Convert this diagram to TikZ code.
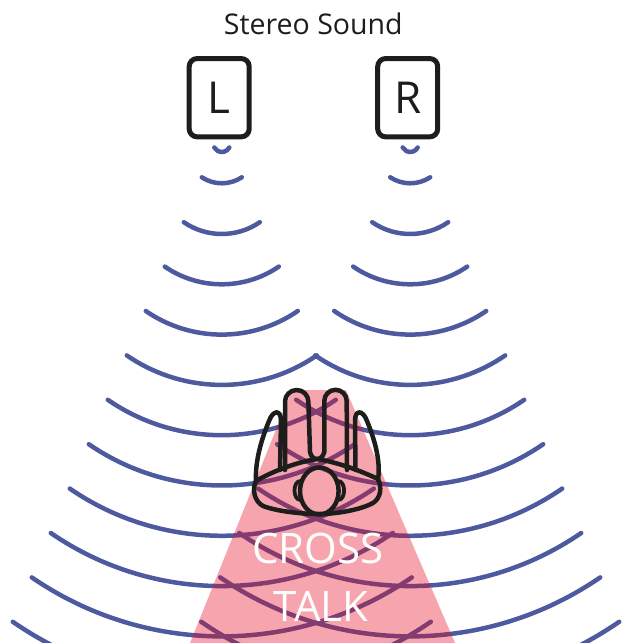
\documentclass[tikz,border=0pt]{standalone}
\usepackage{fontspec}
\setmainfont{Open Sans}
\definecolor{waveblue}{HTML}{4E5A9F}
\definecolor{inkblack}{HTML}{1D1D1B}
\definecolor{washred}{HTML}{E6051F}
\begin{document}
\begin{tikzpicture}[x=1pt,y=-1pt,
  wave/.style={draw=waveblue,line width=4.5pt,line cap=round},
  outline/.style={draw=inkblack,line width=4.5pt,line cap=round,line join=round},
  spk/.style={draw=inkblack,line width=5pt,rounded corners=8pt,minimum width=60pt,
    minimum height=78.3pt,inner sep=0pt,font=\fontsize{44}{50}\selectfont,text=inkblack},
  caption/.style={anchor=base,inner sep=0pt,text=white,font=\fontsize{42}{48}\selectfont}]
\useasboundingbox (0,0) rectangle (626,643);
\clip (0,0) rectangle (626,643);

% title and the two loudspeakers
\node[anchor=base,inner sep=0pt,text=inkblack,font=\fontsize{28.5}{34}\selectfont] (title) at (313.3,34.3) {Stereo Sound};
\node[spk] (left) at (219.2,97.7) {L};
\node[spk] (right) at (407.7,97.7) {R};

% sound waves spreading from each speaker
\foreach \cx in {221.8,410.2}{
  \draw[wave] (\cx,152-8.5) ++(28:8.5) arc[start angle=28,end angle=152,radius=8.5];
  \draw[wave] (\cx,183.3-36.3) ++(56.6:36.3) arc[start angle=56.6,end angle=123.4,radius=36.3];
  \foreach \k in {0,...,9}{
    \pgfmathsetmacro\hw{38+19*\k}
    \pgfmathsetmacro\yb{234+50.3*\k}
    \pgfmathsetmacro\rr{\hw/sin(34.5)}
    \draw[wave] (\cx,\yb-\rr) ++(55.5:\rr) arc[start angle=55.5,end angle=124.5,radius=\rr];
  }
}

% cross-talk zone
\fill[washred,fill opacity=0.36] (292,390) -- (346,390) -- (457.2,648) -- (188,648) -- cycle;

% listener seen from above
\draw[outline] (280,470) -- (281,421) .. controls (281,409) and (273,410) .. (269,421)
  .. controls (262,438) and (255,460) .. (256,481);
\draw[outline] (285,470) -- (285,401.7) arc[start angle=180,end angle=360,radius=11.7]
  -- (310,452) .. controls (311,457) and (314,459) .. (317,459);
\draw[outline] (317,459) .. controls (320,459) and (323,457) .. (324.3,452)
  -- (324.3,401) arc[start angle=180,end angle=360,radius=11.2] -- (347,470);
\draw[outline] (355.5,470) -- (355,421) .. controls (355,409) and (363,410) .. (367,421)
  .. controls (374,438) and (381,460) .. (378,480);
\draw[outline] (256,481) .. controls (275,470) and (298,462) .. (317,459)
  .. controls (336,462) and (359,470) .. (378,479)
  .. controls (382,487) and (381,498) .. (373,503)
  .. controls (360,510) and (336,514) .. (319,514)
  .. controls (300,514) and (276,511) .. (263,506)
  .. controls (254,501) and (252,489) .. (256,481) -- cycle;
\draw[outline] (319.3,491) ellipse[x radius=19.3,y radius=23.5];
\draw[outline,line width=3.8pt] (300.5,481) .. controls (292.5,481) and (292.5,500) .. (300.5,500);
\draw[outline,line width=3.8pt] (338.1,481) .. controls (346.1,481) and (346.1,500) .. (338.1,500);

% label
\node[caption] (cross) at (318,563.3) {CROSS};
\node[caption] (talk) at (321,621.7) {TALK};
\end{tikzpicture}
\end{document}
